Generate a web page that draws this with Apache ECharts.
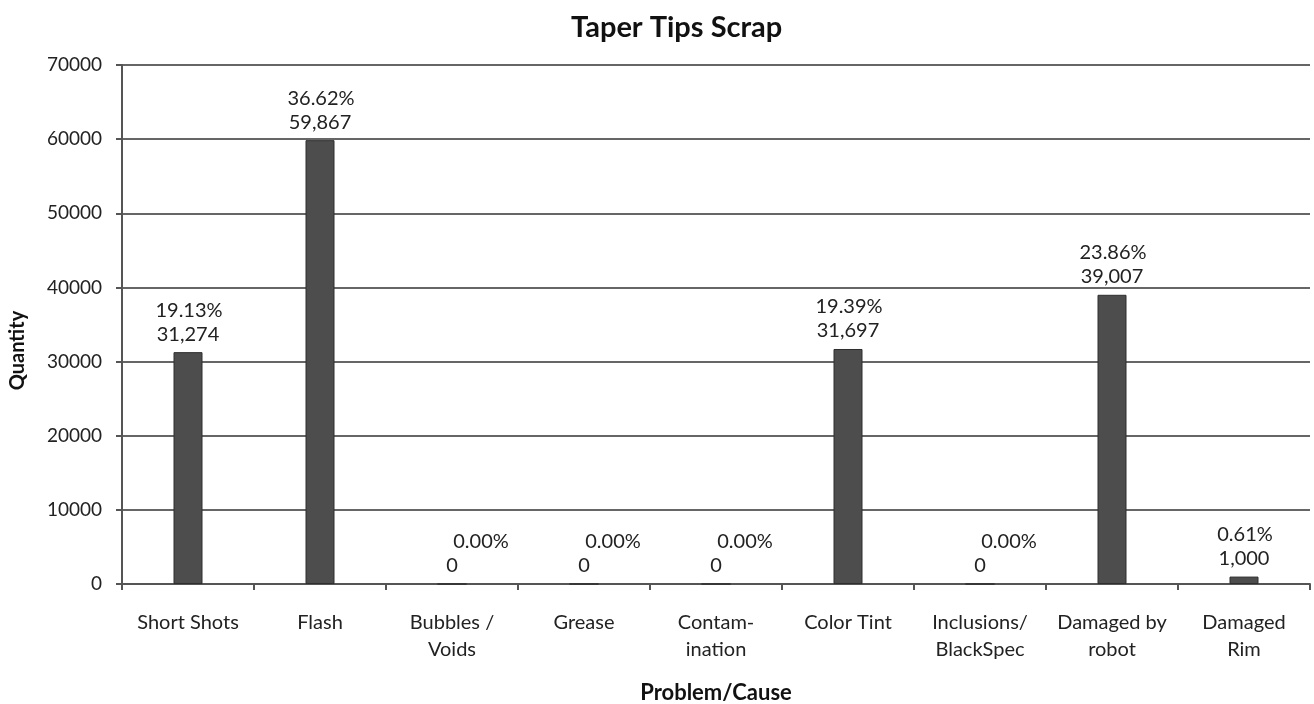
<!DOCTYPE html>
<html>
<head>
<meta charset="utf-8">
<script src="https://cdn.jsdelivr.net/npm/echarts@6/dist/echarts.min.js"></script>
<style>
  html, body { margin: 0; padding: 0; background: #fff; }
  #chart { width: 1314px; height: 704px; }
</style>
</head>
<body>
<div id="chart"></div>
<script>
// Scrap counts per problem/cause, with the share of total scrap for each
const categories = ['Short Shots', 'Flash', 'Bubbles /\nVoids', 'Grease', 'Contam-\nination',
  'Color Tint', 'Inclusions/\nBlackSpec', 'Damaged by\nrobot', 'Damaged\nRim'];
const quantities = [31274, 59867, 0, 0, 0, 31697, 0, 39007, 1000];
const shares = ['19.13%', '36.62%', '0.00%', '0.00%', '0.00%', '19.39%', '0.00%', '23.86%', '0.61%'];
const yTicks = { min: 0, max: 70000, interval: 10000 };

const FONT = 'Lato';
const TEXT = '#222';
const chart = echarts.init(document.getElementById('chart'));

const fmt = v => v.toLocaleString('en-US');

// Two-line value label: share on top, count below; for empty bars the share
// line sits a little to the right of the count.
const data = quantities.map((q, i) => ({
  value: q,
  label: {
    formatter: '{p|' + shares[i] + '}\n{v|' + fmt(q) + '}',
    rich: {
      p: { fontFamily: FONT, fontSize: 20, color: TEXT, lineHeight: 24,
           padding: q === 0 ? [0, 0, 0, 58] : [0, 0, 0, 2] },
      v: { fontFamily: FONT, fontSize: 20, color: TEXT, lineHeight: 24 }
    }
  }
}));

chart.setOption({
  animation: false,
  title: {
    text: 'Taper Tips Scrap',
    left: 566,
    top: 8,
    textStyle: { fontFamily: FONT, fontWeight: 'bold', fontSize: 29, color: '#111' }
  },
  grid: { left: 122, right: 4, top: 65, bottom: 120, outerBoundsMode: 'none' },
  xAxis: {
    type: 'category',
    data: categories,
    name: 'Problem/Cause',
    nameLocation: 'middle',
    nameGap: 98,
    nameTextStyle: { fontFamily: FONT, fontWeight: 'bold', fontSize: 22, color: '#111' },
    axisLine: { lineStyle: { color: '#555', width: 2 } },
    axisTick: { show: true, length: 6, interval: 0, lineStyle: { color: '#555', width: 2 } },
    axisLabel: { fontFamily: FONT, fontSize: 20, color: TEXT, lineHeight: 27, margin: 25,
                 interval: 0 }
  },
  yAxis: {
    type: 'value',
    min: yTicks.min,
    max: yTicks.max,
    interval: yTicks.interval,
    name: 'Quantity',
    nameLocation: 'middle',
    nameGap: 94,
    nameTextStyle: { fontFamily: FONT, fontWeight: 'bold', fontSize: 20, color: '#111',
                     padding: [0, 52, 0, 0] },
    axisLine: { show: true, lineStyle: { color: '#555', width: 2 } },
    axisTick: { show: true, length: 6, lineStyle: { color: '#555', width: 2 } },
    axisLabel: { fontFamily: FONT, fontSize: 19, color: TEXT, margin: 20,
                 formatter: v => String(v) },
    splitLine: { lineStyle: { color: '#333', width: 1.5 } }
  },
  series: [{
    type: 'bar',
    data: data,
    barWidth: 29,
    itemStyle: { color: '#4d4d4d', borderColor: '#2e2e2e', borderWidth: 1 },
    label: { show: true, position: 'top', distance: 6 }
  }]
});
</script>
</body>
</html>
